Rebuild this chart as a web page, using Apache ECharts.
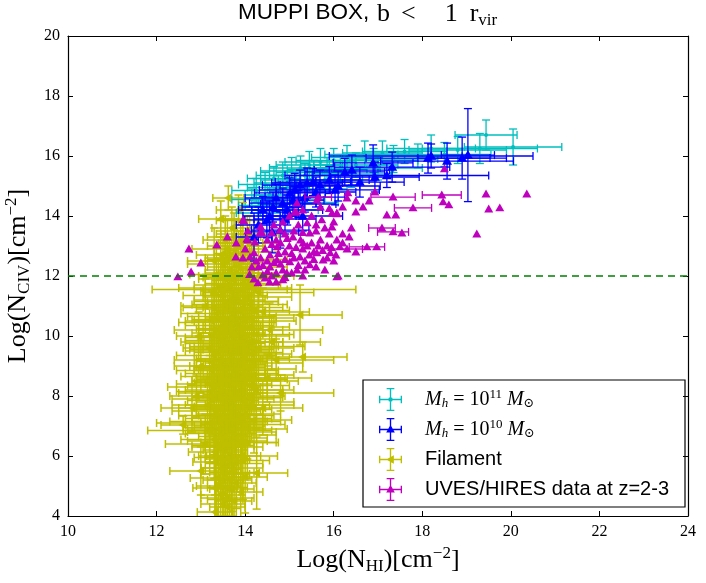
<!DOCTYPE html>
<html>
<head>
<meta charset="utf-8">
<script src="https://cdn.jsdelivr.net/npm/echarts@6/dist/echarts.min.js"></script>
<style>
  html, body { margin: 0; padding: 0; background: #fff; }
  #main { width: 706px; height: 583px; }
</style>
</head>
<body>
<div id="main"></div>
<script>
// ---- data: [logNHI, logNCIV, xerr, yerr] ----
var haloM11 = [
  [14.15,14.55,0.45,0.35],[14.25,14.85,0.55,0.4],[14.35,14.35,0.5,0.35],[14.45,15.05,0.6,0.4],
  [14.55,14.7,0.55,0.35],[14.65,15.25,0.6,0.4],[14.75,14.95,0.7,0.4],[14.85,15.35,0.6,0.45],
  [14.95,15.1,0.75,0.4],[15.05,15.5,0.7,0.45],[15.15,15.2,0.8,0.35],[15.25,15.6,0.7,0.4],
  [15.35,15.35,0.8,0.4],[15.45,15.7,0.75,0.45],[15.55,15.45,0.85,0.4],[15.7,15.8,0.8,0.45],
  [15.85,15.55,0.9,0.4],[16.0,15.85,0.85,0.4],[16.15,15.6,0.9,0.45],[16.3,15.95,0.8,0.4],
  [16.5,15.7,0.95,0.4],[16.7,16.05,0.9,0.45],[16.9,15.85,1.0,0.4],[17.1,16.1,0.9,0.4],
  [17.35,15.9,1.0,0.45],[17.6,16.15,0.95,0.4],[17.9,16.0,1.0,0.4],[18.2,16.25,1.0,0.45],
  [18.5,16.05,1.05,0.4],[18.8,16.2,1.1,0.45],[19.3,16.25,1.3,0.5],[19.44,16.7,0.7,0.5],
  [20.05,16.3,1.1,0.6],[15.0,14.6,0.8,0.4],[15.4,14.9,0.9,0.45],[15.8,15.2,0.85,0.4],
  [14.6,14.3,0.6,0.4],[14.3,14.1,0.5,0.4],[16.4,15.4,0.9,0.45],[17.0,15.6,1.0,0.4],
  [15.2,14.45,0.9,0.4],[14.9,14.2,0.75,0.4]
];
var haloM10 = [
  [14.4,14.2,0.55,0.45],[14.49,13.87,0.5,0.6],[14.61,13.47,0.6,0.7],[14.63,14.3,0.7,0.5],
  [14.79,13.53,0.65,0.6],[14.85,14.43,0.75,0.5],[15.01,14.77,0.8,0.5],[15.08,14.53,0.7,0.45],
  [15.12,14.87,0.8,0.55],[15.24,15.03,0.85,0.5],[15.35,14.63,0.9,0.5],[15.4,15.1,0.8,0.5],
  [15.53,15.13,0.85,0.45],[15.69,15.03,0.9,0.5],[16.03,14.87,1.0,0.5],[16.25,15.47,0.9,0.45],
  [16.41,15.53,0.85,0.5],[16.59,15.13,1.0,0.5],[16.89,15.77,0.9,0.6],[16.93,15.3,1.0,0.5],
  [17.32,15.63,1.3,0.5],[18.13,15.93,1.4,0.5],[18.56,15.83,1.5,0.6],[18.9,15.93,1.0,0.7],
  [19.03,16.03,0.6,1.55],[14.3,13.7,0.5,0.6],[14.55,14.0,0.6,0.5],[14.7,14.6,0.7,0.45],
  [14.95,14.2,0.8,0.5],[15.2,14.4,0.85,0.45],[15.6,14.8,0.9,0.5],[15.9,15.2,0.9,0.45],
  [16.1,15.0,0.95,0.5],[15.3,14.0,0.9,0.5],[14.9,13.9,0.7,0.5],[14.2,13.3,0.4,0.8],
  [18.2,16.0,2.3,0.4],[17.2,15.35,2.3,0.4]
];
var filament = [
  [13.62,14.6,0.35,0.4],[13.85,14.2,0.5,0.5],[13.95,13.85,0.6,0.6],[13.7,13.6,0.45,0.7],
  [14.05,13.4,0.7,0.6],[13.55,13.2,0.5,0.8],[13.8,13.0,0.65,0.9],[14.15,12.8,0.6,0.7],
  [13.45,12.7,0.55,0.8],[13.9,12.5,0.8,1.0],[14.2,12.3,0.75,0.7],[13.65,12.2,0.55,1.1],
  [13.35,12.05,0.6,0.9],[14.0,11.95,0.95,0.8],[13.75,11.85,0.5,1.0],
  [13.6,11.7,0.75,1.1],[13.9,11.55,1.05,0.9],[14.3,11.45,1.25,1.0],[13.45,11.35,0.85,1.2],
  [13.8,11.15,0.95,1.3],[14.1,11.05,0.85,0.8],[13.3,10.95,0.7,1.1],[15.24,10.7,0.95,1.0],
  [13.7,10.65,1.0,1.4],[14.0,10.5,1.15,1.0],[13.5,10.35,0.85,1.3],[13.9,10.2,0.95,1.2],
  [14.25,10.05,0.85,0.9],[13.4,9.95,0.75,1.4],[13.7,9.8,1.15,1.1],[14.05,9.65,1.3,1.3],
  [13.6,9.5,0.95,1.5],[13.3,9.35,0.85,1.2],[13.95,9.25,1.05,1.1],[14.2,9.1,1.1,1.4],
  [13.5,9.0,0.75,1.3],[13.55,11.9,0.6,1.3],[14.15,11.6,0.9,1.0],[13.65,11.2,0.8,1.0],
  [14.4,10.8,1.05,0.8],[13.85,10.85,0.6,1.2],[13.25,10.5,0.6,1.0],[14.1,10.3,0.9,1.1],
  [13.75,10.1,0.7,1.2],[13.55,9.75,0.9,1.1],[14.3,9.6,0.8,1.0],[13.85,9.45,1.0,1.3],
  [13.2,9.6,0.6,1.0],[13.7,9.15,0.8,1.2],[14.2,11.55,2.3,0.7],
  [13.8,8.85,0.95,1.4],[13.4,8.65,0.85,1.1],[14.0,8.5,1.2,1.5],[13.6,8.35,0.9,1.3],
  [13.2,8.15,0.75,1.2],[13.9,8.0,1.0,1.6],[13.5,7.85,0.8,1.4],[14.1,7.7,1.0,1.2],
  [13.7,7.55,0.9,1.5],[13.3,7.35,0.8,1.3],[12.6,7.03,0.5,0.3],[13.8,7.15,1.0,1.6],
  [13.5,6.95,0.9,1.4],[13.2,6.85,1.4,1.1],[13.9,6.7,0.8,1.3],[13.6,6.5,0.9,1.5],
  [14.2,8.7,0.9,1.1],[13.65,8.95,0.8,1.2],[13.35,8.4,0.9,1.0],[14.25,8.2,0.85,1.3],
  [13.75,8.2,1.1,1.2],[13.45,7.6,0.95,1.2],[14.0,7.4,0.8,1.4],[13.15,7.7,0.8,0.9],
  [13.65,7.0,0.8,1.3],[13.4,7.15,1.1,1.2],[14.05,6.9,0.9,1.0],
  [13.32,6.13,0.6,1.2],[13.93,6.0,0.8,1.3],[13.32,5.8,0.5,1.1],[14.26,5.43,0.7,1.2],
  [13.36,5.27,0.6,1.3],[13.32,4.93,0.5,1.0],[13.6,4.6,0.6,1.5],[13.32,4.13,0.4,0.8],
  [13.7,5.6,0.7,1.6],[13.5,4.4,0.5,1.3],[13.75,6.3,0.65,1.4],[13.55,6.2,0.5,1.5],
  [13.8,5.1,0.45,1.2],[13.45,5.6,0.45,1.3],[13.9,4.8,0.5,1.0],
  [13.45,13.9,0.5,0.6],[13.75,13.3,0.6,0.8],[14.1,13.1,0.7,0.9],[13.6,12.9,0.8,1.0],
  [13.3,12.5,0.6,1.1],[14.05,12.55,0.9,0.8],[13.85,12.3,0.7,1.2],[13.5,12.4,0.8,0.9],
  [14.3,12.0,0.8,1.0],[13.95,11.75,0.85,1.2],[13.4,11.6,0.9,1.0],[13.7,11.45,0.6,1.3],
  [14.05,11.3,1.0,1.1],[13.55,11.05,0.75,1.4],[13.95,10.95,0.9,1.0],[13.35,10.75,0.8,1.3],
  [14.15,10.6,0.95,1.2],[13.6,10.45,1.1,1.1],[13.85,10.35,0.8,1.4],[13.3,10.2,0.9,1.2],
  [14.0,10.0,1.0,1.3],[13.5,9.85,0.85,1.2],[13.8,9.65,0.95,1.5],[14.15,9.4,0.9,1.2],
  [13.4,9.2,1.0,1.3],[13.75,9.0,0.85,1.4],[14.05,8.9,1.1,1.3],[13.55,8.75,0.9,1.5],
  [13.25,8.85,0.8,1.2],[13.9,8.6,1.0,1.4],[13.65,8.5,0.85,1.3],[13.3,8.3,1.05,1.2],
  [14.1,8.35,0.9,1.4],[13.5,8.1,1.0,1.5],[13.85,7.95,0.95,1.3],[13.25,7.9,0.9,1.2],
  [14.0,7.8,1.1,1.4],[13.6,7.7,0.95,1.3],[13.35,7.5,1.0,1.5],[13.8,7.35,0.85,1.4],
  [13.55,7.25,0.9,1.6],[13.2,7.1,1.2,1.3],[13.95,7.05,0.95,1.2],[13.45,6.75,0.8,1.5],
  [13.7,6.8,1.0,1.4],[13.3,6.55,0.75,1.3],[13.85,6.45,0.85,1.5],[13.5,6.35,0.7,1.6],
  [13.65,6.0,0.7,1.5],[13.45,5.95,0.6,1.4],[13.8,5.75,0.6,1.5],[13.55,5.4,0.55,1.4],
  [13.65,5.2,0.5,1.3],[13.4,5.0,0.5,1.2],[13.7,4.9,0.5,1.4],[13.45,4.7,0.45,1.2],
  [13.6,4.3,0.4,1.0],[12.8,7.6,0.7,0.8],[12.9,8.0,0.6,0.7],[13.0,9.0,0.6,0.9],
  [12.95,10.0,0.5,0.8],[13.1,11.0,0.55,0.9],[14.6,9.8,1.1,0.9],[14.5,8.6,1.0,0.8],
  [14.55,10.2,1.2,0.9],[14.4,7.6,0.9,0.9],[14.7,9.2,1.3,0.7],[15.3,9.3,1.0,0.5],
  [14.8,8.1,1.2,0.6],[13.1,6.4,0.9,1.0],[13.0,5.5,0.7,0.8],
  [13.6,12.6,0.5,0.9],[13.75,12.75,0.45,0.8],[13.9,13.1,0.5,0.7],[13.55,12.0,0.6,1.0],
  [13.8,12.1,0.7,0.9],[13.65,11.55,0.6,1.1],[13.8,11.35,0.7,1.0],[13.5,11.5,0.5,1.2],
  [13.95,11.15,0.8,1.1],[13.6,10.9,0.7,1.2],[13.75,10.75,0.55,1.3],[13.45,10.55,0.65,1.1],
  [13.95,10.6,0.7,1.0],[13.65,10.25,0.75,1.3],[13.8,10.05,0.6,1.2],[13.5,10.1,0.7,1.1],
  [13.95,9.9,0.75,1.2],[13.65,9.7,0.6,1.3],[13.45,9.55,0.7,1.2],[13.85,9.55,0.8,1.1],
  [14.0,9.35,0.7,1.3],[13.6,9.2,0.75,1.2],[13.85,9.05,0.6,1.4],[13.5,8.9,0.65,1.2],
  [13.75,8.7,0.7,1.3],[13.95,8.75,0.8,1.1],[13.6,8.55,0.7,1.4],[13.45,8.45,0.6,1.2],
  [13.85,8.4,0.75,1.3],[13.7,8.05,0.65,1.5],[13.4,7.95,0.6,1.3],[13.95,7.9,0.7,1.2],
  [13.55,7.65,0.7,1.4],[13.8,7.6,0.6,1.3],[13.65,7.4,0.75,1.5],[13.45,7.3,0.65,1.3],
  [13.9,7.25,0.7,1.2],[13.6,7.1,0.6,1.4],[13.75,6.9,0.65,1.5],[13.4,6.9,0.7,1.2],
  [13.55,6.65,0.6,1.4],[13.8,6.6,0.7,1.3],[13.65,6.35,0.55,1.5],[13.4,6.3,0.6,1.2],
  [13.6,5.9,0.5,1.4],[13.7,5.45,0.5,1.3],[13.5,5.2,0.45,1.2],[13.6,4.95,0.45,1.3],
  [13.55,4.55,0.4,1.1],[13.75,4.5,0.4,1.0],[14.1,12.1,0.6,0.9],[14.05,11.7,0.7,1.0],
  [14.2,10.85,0.8,1.0],[14.1,9.8,0.75,1.1],[14.15,8.55,0.8,1.2],[14.1,7.95,0.75,1.2],
  [14.2,7.2,0.85,1.1],[14.05,6.45,0.7,1.2],[13.95,5.85,0.6,1.3],[14.0,5.3,0.5,1.2]
];
var uvesHires = [
  [12.48,11.97,0,0],[12.73,12.9,0,0],[12.78,12.13,0,0],[13.0,12.43,0,0],[13.36,13.03,0,0],
  [13.97,13.83,0,0],[14.06,13.5,0,0],[14.04,13.23,0,0],[14.22,13.13,0,0],[14.38,13.43,0,0],
  [14.2,12.77,0,0],[14.11,12.63,0,0],[13.79,12.63,0,0],[13.95,12.6,0,0],[14.15,12.3,0,0],
  [14.29,11.77,0,0],[14.4,12.03,0,0],[14.45,11.93,0,0],[14.56,12.3,0,0],[14.72,12.97,0,0],
  [14.6,13.43,0,0],[14.79,13.53,0,0],[15.01,12.47,0,0],[15.17,12.2,0,0],[14.85,11.87,0,0],
  [14.94,12.1,0,0],[15.31,13.1,0,0],[15.46,13.43,0,0],[15.62,12.77,0,0],[15.76,12.53,0,0],
  [15.92,12.77,0,0],[16.07,13.2,0,0],[16.14,12.97,0,0],[15.96,13.63,0,0],[15.73,13.87,0,0],
  [16.07,14.07,0,0],[15.17,14.43,0,0],[15.15,14.13,0,0],[15.4,13.77,0,0],[16.1,12.0,0,0],
  [15.08,13.3,0,0],[15.24,12.63,0,0],[14.72,12.53,0,0],[14.85,12.2,0,0],[14.56,12.7,0,0],
  [15.46,12.37,0,0],[13.95,13.87,0,0],[14.06,13.2,0,0],[14.33,13.43,0,0],[15.12,14.13,0,0],
  [15.62,14.53,0,0],[15.65,14.63,0.3,0],[16.32,14.77,0,0],[16.3,14.6,0,0],[16.93,14.8,0,0],
  [15.96,14.1,0,0],[16.07,14.1,0,0],[16.5,14.13,0,0],[16.66,14.3,0,0],[17.2,14.03,0,0],
  [17.4,14.03,0,0],[17.34,14.63,0.5,0],[17.79,14.27,0.42,0],[18.44,14.7,0.44,0],[18.47,14.47,0,0],
  [18.6,14.37,0,0],[19.44,14.73,0,0],[20.36,14.73,0,0],[19.5,14.23,0,0],[19.75,14.27,0,0],
  [19.23,13.4,0,0],[18.5,15.57,0,0],[17.09,13.6,0.3,0],[17.34,13.47,0.35,0],[17.54,13.43,0,0],
  [16.75,12.97,0.4,0],[16.97,12.97,0,0],[16.5,12.8,0,0],[16.07,11.97,0,0],
  [14.7,13.2,0,0],[14.9,12.8,0,0],[15.0,13.0,0,0],[15.3,12.9,0,0],[15.5,13.1,0,0],
  [15.7,13.2,0,0],[15.1,12.6,0,0],[14.6,12.0,0,0],[14.8,12.4,0,0],[15.35,12.5,0,0],
  [15.55,12.8,0,0],[15.85,13.0,0,0],[16.2,13.4,0,0],[16.4,13.6,0,0],[15.9,13.4,0,0],
  [15.6,13.5,0,0],[14.5,12.5,0,0],[14.9,13.4,0,0],[15.2,13.7,0,0],[15.5,14.0,0,0],
  [14.3,12.3,0,0],[15.8,12.2,0,0],[16.0,12.5,0,0],[16.3,12.9,0.35,0],[15.3,12.0,0,0],
  [14.7,11.8,0,0],[15.7,14.3,0,0],[16.8,14.5,0,0],[16.2,14.3,0,0],[13.6,13.3,0,0],
  [13.8,13.1,0,0],[14.0,12.9,0,0],
  [14.35,12.6,0,0],[14.5,12.15,0,0],[14.65,12.45,0,0],[14.75,12.75,0,0],[14.9,12.55,0,0],
  [15.05,12.75,0,0],[15.15,12.95,0,0],[15.25,13.2,0,0],[15.4,13.0,0,0],[15.45,12.7,0,0],
  [15.55,12.55,0,0],[15.65,13.0,0,0],[15.75,12.85,0,0],[15.85,12.6,0,0],[15.95,12.95,0,0],
  [16.05,12.7,0,0],[14.45,12.9,0,0],[14.6,13.05,0,0],[14.8,13.1,0,0],[14.95,13.25,0,0],
  [15.1,13.5,0,0],[15.3,13.45,0,0],[15.6,13.7,0,0],[15.8,13.6,0,0],[16.0,13.8,0,0],
  [14.25,12.5,0,0],[14.4,12.35,0,0],[14.55,11.8,0,0],[14.7,12.1,0,0],[14.9,11.95,0,0],
  [15.05,12.1,0,0],[15.2,12.35,0,0],[15.35,12.2,0,0],[15.6,12.3,0,0],[14.5,13.2,0,0],
  [14.65,13.7,0,0],[14.35,13.65,0,0],[14.85,13.8,0,0],[15.0,14.0,0,0],[15.3,14.2,0,0],
  [16.2,13.1,0,0],[16.35,13.3,0,0],[15.9,14.25,0,0],[16.5,14.5,0,0],[14.1,12.05,0,0],
  [14.2,11.9,0,0]
];
var thresholdCIV = 12;

var colors = { m11: '#00bfbf', m10: '#0000ff', fil: '#bfbf00', uves: '#bf00bf' };
var serif = "'Liberation Serif', 'DejaVu Serif', serif";
var sans = "'Liberation Sans', Arial, sans-serif";

// legend icons: errorbar cross + marker, drawn in a 24x24 box
var crossPath = 'M0 11.3H24V12.7H0Z M11.3 0H12.7V24H11.3Z M0 8H1.4V16H0Z M22.6 8H24V16H22.6Z ' +
  'M8 0H16V1.4H8Z M8 22.6H16V24H8Z ';
var icons = {
  dot: 'path://' + crossPath + 'M14.4 12L13.7 13.7L12 14.4L10.3 13.7L9.6 12L10.3 10.3L12 9.6L13.7 10.3Z',
  up: 'path://' + crossPath + 'M12 7L16.5 15L7.5 15Z',
  left: 'path://' + crossPath + 'M7.5 12L15.5 7.5L15.5 16.5Z'
};

function markerShape(kind, c, color, s) {
  if (kind === 'dot') {
    return { type: 'circle', shape: { cx: c[0], cy: c[1], r: s }, style: { fill: color } };
  }
  var pts;
  if (kind === 'up') {
    pts = [[c[0], c[1] - s], [c[0] + s, c[1] + s * 0.75], [c[0] - s, c[1] + s * 0.75]];
  } else {
    pts = [[c[0] - s, c[1]], [c[0] + s * 0.75, c[1] - s], [c[0] + s * 0.75, c[1] + s]];
  }
  return { type: 'polygon', shape: { points: pts }, style: { fill: color } };
}

function errorRender(kind, color, size, lw) {
  return function (params, api) {
    var x = api.value(0), y = api.value(1), xe = api.value(2), ye = api.value(3);
    var c = api.coord([x, y]);
    var cap = 4;
    var st = { stroke: color, lineWidth: lw };
    var kids = [];
    if (xe > 0) {
      var l = api.coord([x - xe, y]), r = api.coord([x + xe, y]);
      kids.push({ type: 'line', shape: { x1: l[0], y1: c[1], x2: r[0], y2: c[1] }, style: st });
      kids.push({ type: 'line', shape: { x1: l[0], y1: c[1] - cap, x2: l[0], y2: c[1] + cap }, style: st });
      kids.push({ type: 'line', shape: { x1: r[0], y1: c[1] - cap, x2: r[0], y2: c[1] + cap }, style: st });
    }
    if (ye > 0) {
      var t = api.coord([x, y + ye]), b = api.coord([x, y - ye]);
      kids.push({ type: 'line', shape: { x1: c[0], y1: t[1], x2: c[0], y2: b[1] }, style: st });
      kids.push({ type: 'line', shape: { x1: c[0] - cap, y1: t[1], x2: c[0] + cap, y2: t[1] }, style: st });
      kids.push({ type: 'line', shape: { x1: c[0] - cap, y1: b[1], x2: c[0] + cap, y2: b[1] }, style: st });
    }
    kids.push(markerShape(kind, c, color, size));
    return { type: 'group', children: kids };
  };
}

var legendText = {
  'M11': '{g| }{i|M}{sb|h}{n| = 10}{sp|11}{i| M}{sb|⊙}',
  'M10': '{g| }{i|M}{sb|h}{n| = 10}{sp|10}{i| M}{sb|⊙}',
  'Filament': '{g| }{t|Filament}',
  'UVES': '{g| }{t|UVES/HIRES data at z=2-3}'
};

var chart = echarts.init(document.getElementById('main'));

var tickStyle = { show: true, inside: true, length: 5, lineStyle: { color: '#000', width: 1 } };
var lineStyle = { show: true, onZero: false, lineStyle: { color: '#000', width: 1.2 } };
var nameRich = {
  t: { fontFamily: serif, fontSize: 26, color: '#000' },
  s: { fontFamily: serif, fontSize: 17, color: '#000', padding: [12, 0, 0, 0] },
  p: { fontFamily: serif, fontSize: 17, color: '#000', padding: [0, 0, 14, 0] }
};

var option = {
  animation: false,
  backgroundColor: '#fff',
  graphic: [
    {
      type: 'text', x: 238, y: 1, silent: true,
      style: { text: 'MUPPI BOX,', fontFamily: sans, fontSize: 22.5, fill: '#000', verticalAlign: 'top' }
    },
    {
      type: 'text', x: 377, y: 0, silent: true,
      style: {
        text: '{m|b}{lt|<}{m|1}{r|r}{s|vir}', verticalAlign: 'top',
        rich: {
          m: { fontFamily: serif, fontSize: 26, fill: '#000' },
          lt: { fontFamily: serif, fontSize: 26, fill: '#000', padding: [0, 29, 0, 11] },
          r: { fontFamily: serif, fontSize: 26, fill: '#000', padding: [0, 0, 0, 12] },
          s: { fontFamily: serif, fontSize: 17, fill: '#000', padding: [12, 0, 0, 0] }
        }
      }
    }
  ],
  grid: { left: 68, right: 18, top: 36, bottom: 67, containLabel: false, outerBoundsMode: 'none' },
  legend: {
    orient: 'vertical',
    left: 363,
    top: 380,
    padding: [8, 16, 6, 16],
    itemWidth: 23,
    itemHeight: 23,
    itemGap: 7,
    borderColor: '#000',
    borderWidth: 1.2,
    borderRadius: 0,
    selectedMode: false,
    data: [
      { name: 'M11', icon: icons.dot },
      { name: 'M10', icon: icons.up },
      { name: 'Filament', icon: icons.left },
      { name: 'UVES', icon: icons.up }
    ],
    formatter: function (name) { return legendText[name]; },
    textStyle: {
      color: '#000',
      rich: {
        g: { width: 18 },
        t: { fontFamily: sans, fontSize: 20, color: '#000' },
        i: { fontFamily: serif, fontStyle: 'italic', fontSize: 20, color: '#000' },
        n: { fontFamily: serif, fontSize: 20, color: '#000' },
        sb: { fontFamily: serif, fontStyle: 'italic', fontSize: 13, color: '#000', padding: [9, 0, 0, 0] },
        sp: { fontFamily: serif, fontSize: 13, color: '#000', padding: [0, 0, 10, 0] }
      }
    }
  },
  xAxis: [{
    type: 'value', min: 10, max: 24, interval: 2,
    axisLine: lineStyle, axisTick: tickStyle, splitLine: { show: false },
    axisLabel: { fontFamily: serif, fontSize: 16, color: '#000', margin: 8 },
    name: '{t|Log(N}{s|HI}{t|)[cm}{p|−2}{t|]}',
    nameLocation: 'middle', nameGap: 28,
    nameTextStyle: { rich: nameRich }
  }, {
    type: 'value', min: 10, max: 24, interval: 2, position: 'top',
    axisLine: lineStyle, axisTick: tickStyle, splitLine: { show: false },
    axisLabel: { show: false }
  }],
  yAxis: [{
    type: 'value', min: 4, max: 20, interval: 2,
    axisLine: lineStyle, axisTick: tickStyle, splitLine: { show: false },
    axisLabel: { fontFamily: serif, fontSize: 16, color: '#000', margin: 8 },
    name: '{t|Log(N}{s|CIV}{t|)[cm}{p|−2}{t|]}',
    nameLocation: 'middle', nameGap: 17, nameRotate: 90,
    nameTextStyle: { rich: nameRich }
  }, {
    type: 'value', min: 4, max: 20, interval: 2, position: 'right',
    axisLine: lineStyle, axisTick: tickStyle, splitLine: { show: false },
    axisLabel: { show: false }
  }],
  series: [
    {
      name: 'Filament', type: 'custom', clip: true,
      itemStyle: { color: colors.fil },
      renderItem: errorRender('left', colors.fil, 4.5, 1.5),
      encode: { x: 0, y: 1 },
      data: filament,
      markLine: {
        silent: true, symbol: 'none', label: { show: false },
        lineStyle: { color: '#008000', type: [7, 5], width: 1.5 },
        data: [{ yAxis: thresholdCIV }]
      }
    },
    {
      name: 'M11', type: 'custom', clip: true,
      itemStyle: { color: colors.m11 },
      renderItem: errorRender('dot', colors.m11, 2, 1.3),
      encode: { x: 0, y: 1 },
      data: haloM11
    },
    {
      name: 'M10', type: 'custom', clip: true,
      itemStyle: { color: colors.m10 },
      renderItem: errorRender('up', colors.m10, 5, 1.3),
      encode: { x: 0, y: 1 },
      data: haloM10
    },
    {
      name: 'UVES', type: 'custom', clip: true,
      itemStyle: { color: colors.uves },
      renderItem: errorRender('up', colors.uves, 4.5, 1.3),
      encode: { x: 0, y: 1 },
      data: uvesHires
    }
  ]
};

chart.setOption(option);
</script>
</body>
</html>
